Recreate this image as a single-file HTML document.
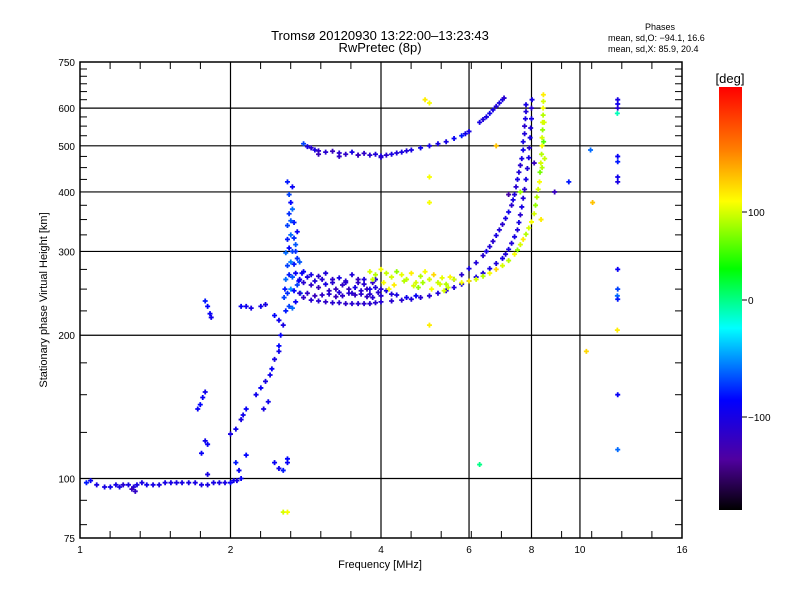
<!DOCTYPE html>
<html><head><meta charset="utf-8">
<style>
body{margin:0;background:#fff;}
svg{display:block;font-family:"Liberation Sans",sans-serif;}
</style></head>
<body>
<svg id="chart" width="800" height="600" viewBox="0 0 800 600" xmlns="http://www.w3.org/2000/svg">
<defs>
<linearGradient id="cbar" x1="0" y1="0" x2="0" y2="1">
<stop offset="0" stop-color="#ff0000"/>
<stop offset="0.15" stop-color="#ff8000"/>
<stop offset="0.27" stop-color="#ffff00"/>
<stop offset="0.43" stop-color="#00ff00"/>
<stop offset="0.57" stop-color="#00ffff"/>
<stop offset="0.74" stop-color="#0000ff"/>
<stop offset="0.88" stop-color="#5000a0"/>
<stop offset="1" stop-color="#000000"/>
</linearGradient>
</defs>
<rect width="800" height="600" fill="#fff"/>
<text x="380" y="40" text-anchor="middle" font-size="13">Tromsø 20120930 13:22:00–13:23:43</text>
<text x="380" y="52" text-anchor="middle" font-size="13">RwPretec (8p)</text>
<text x="660" y="30" text-anchor="middle" font-size="9">Phases</text>
<text x="608" y="41" font-size="9">mean, sd,O: −94.1, 16.6</text>
<text x="608" y="52" font-size="9">mean, sd,X:  85.9, 20.4</text>
<g id="grid"></g>
<g id="marks"></g>
<rect x="80" y="62" width="602" height="476" fill="none" stroke="#000" stroke-width="1.5"/>
<g id="axes"></g>
<text x="380" y="568" text-anchor="middle" font-size="11">Frequency [MHz]</text>
<text transform="translate(47,300) rotate(-90)" text-anchor="middle" font-size="11">Stationary phase Virtual Height [km]</text>
<rect x="719" y="87" width="23" height="423" fill="url(#cbar)"/>
<text x="730" y="83" text-anchor="middle" font-size="13">[deg]</text>
<g id="cbticks"></g>
</svg>
<script>
const xTicks=[1,2,4,6,8,10,16];
const xLabels=["1","2","4","6","8","10","16"];
const xGrid=[2,4,6,8,10];
const yTicks=[75,100,200,300,400,500,600,750];
const yLabels=["75","100","200","300","400","500","600","750"];
const yGrid=[100,200,300,400,500,600];
const cbValues=[100,0,-100];
const cbLabels=["100","0","−100"];

// Series: frequency [MHz], height [km], phase [deg]
const eFreq=[1.03,1.05,1.08,1.12,1.15,1.18,1.2,1.22,1.25,1.28,1.3,1.33,1.36,1.4,1.44,1.48,1.52,1.56,1.6,1.65,1.7,1.75,1.8,1.85,1.9,1.95,2.0,2.03,2.06,2.1,1.27,1.29];
const eHeight=[98,99,97,96,96,97,96,97,97,96,97,98,97,97,97,98,98,98,98,98,98,97,97,98,98,98,98,99,99,100,95,94];
const ePhase=[-80,-90,-100,-100,-95,-100,-100,-110,-100,-105,-100,-100,-95,-100,-100,-100,-100,-100,-100,-100,-100,-100,-100,-100,-100,-100,-90,-95,-100,-90,-120,-115];

const lowFreq=[1.75,1.78,1.8,1.72,1.74,1.76,1.78,1.78,1.8,1.82,1.83,2.0,2.05,2.1,2.12,2.15,2.05,2.15,2.1,2.15,2.2,2.3,2.35,2.25,2.3,2.35,2.4,2.42,2.45,2.5,2.5,2.52,2.55,2.5,2.45,2.45,2.5,2.55,2.6,2.6,2.33,2.38,1.8,2.08];
const lowHeight=[113,120,118,140,143,148,152,236,230,222,218,124,127,133,136,140,108,112,230,230,228,230,232,150,155,160,165,170,178,185,190,200,210,215,220,108,105,104,108,110,140,145,102,104];
const lowPhase=[-90,-95,-90,-90,-85,-90,-95,-80,-85,-90,-95,-100,-95,-100,-95,-90,-80,-85,-90,-95,-100,-95,-100,-95,-90,-100,-95,-90,-100,-95,-85,-90,-100,-95,-85,-90,-95,-80,-90,-85,-100,-95,-100,-90];

const cuspFreq=[2.58,2.62,2.66,2.7,2.6,2.64,2.68,2.72,2.58,2.62,2.66,2.7,2.6,2.64,2.68,2.72,2.58,2.62,2.66,2.7,2.6,2.64,2.68,2.72,2.6,2.64,2.68,2.62,2.66,2.64,2.62,2.66,2.6,2.7,2.74,2.76,2.78,2.56,2.57,2.75];
const cuspHeight=[225,230,228,235,245,250,248,255,262,268,265,270,280,285,282,290,298,305,300,310,318,325,320,330,340,348,345,360,368,380,395,410,420,300,260,245,270,240,250,285];
const cuspPhase=[-80,-70,-60,-90,-75,-50,-85,-70,-60,-80,-65,-90,-70,-55,-80,-75,-60,-85,-70,-65,-80,-60,-75,-90,-70,-65,-80,-75,-60,-85,-70,-90,-80,-75,-85,-60,-90,-70,-80,-65];

const oFreq=[2.75,2.8,2.9,3.0,3.1,3.2,3.3,3.4,3.5,3.6,3.7,3.8,3.9,4.0,4.2,4.4,4.6,4.8,5.0,5.2,5.4,5.6,5.8,6.0,6.2,6.4,6.6,6.8,7.0,7.1,7.2,7.3,7.4,7.5,7.55,7.6,7.65,7.7,7.75,7.8,7.85,7.9,7.92,7.95,7.97,8.0,8.0,8.02];
const oHeight=[245,240,237,236,235,234,234,233,233,233,233,233,234,235,236,237,238,240,242,245,248,252,256,260,265,270,276,283,290,296,303,312,322,333,345,358,372,388,405,425,448,472,495,520,545,570,600,625];
const oPhase=[-110,-115,-110,-110,-115,-110,-110,-115,-110,-110,-112,-110,-110,-108,-110,-110,-105,-110,-108,-105,-110,-105,-100,-105,-100,-105,-100,-105,-100,-105,-100,-105,-100,-105,-100,-110,-100,-105,-110,-100,-105,-100,-110,-100,-105,-100,-110,-100];

const bandFreq=[2.75,2.8,2.85,2.9,2.95,3.0,3.05,3.1,3.15,3.2,3.25,3.3,3.35,3.4,3.45,3.5,3.55,3.6,3.65,3.7,3.75,3.8,3.85,3.9,3.95,4.0,2.8,2.9,3.0,3.1,3.2,3.3,3.4,3.5,3.6,3.7,3.8,3.9,4.0,4.1,4.2,2.85,2.95,3.05,3.15,3.25,3.35,3.45,3.55,3.65,3.75,3.85,4.3,4.5,4.7];
const bandHeight=[262,258,265,255,260,252,262,256,248,258,250,246,255,260,250,245,252,258,248,262,250,244,258,252,246,242,272,268,266,270,262,264,258,268,262,256,250,262,250,248,244,245,242,243,244,241,242,245,243,244,241,240,243,240,242];
const bandPhase=[-95,-110,-100,-115,-105,-120,-110,-100,-115,-110,-120,-105,-115,-110,-120,-110,-100,-115,-110,-105,-120,-110,-115,-105,-110,-110,-90,-100,-110,-105,-115,-100,-110,-105,-120,-110,-100,-105,-110,-100,-105,-115,-120,-115,-110,-120,-115,-110,-118,-112,-115,-110,-100,-95,-90];

const xFreq=[3.8,3.9,4.0,4.1,4.2,4.3,4.4,4.5,4.6,4.7,4.8,4.9,5.0,5.1,5.2,5.3,5.4,5.5,3.85,4.05,4.25,4.45,4.65,4.85,5.05,5.25,5.45,5.6,5.8,6.0,6.2,6.4,6.6,6.8,7.0,7.2,7.4,7.5,7.6,7.7,7.8,7.9,8.0,8.1,8.15,8.2,8.25,8.3,8.32,8.35,8.38,8.4,8.4,8.42,8.42,8.44,8.44,8.45,8.45,8.46,8.4,8.48,8.36,8.5,4.15,4.75,5.35];
const xHeight=[272,268,275,270,265,272,268,262,270,258,266,272,262,268,258,264,256,265,262,258,255,260,254,258,250,256,252,262,258,260,262,266,270,275,280,287,296,302,310,318,326,336,346,360,375,390,405,420,440,460,480,500,520,540,560,580,600,620,640,510,450,560,350,470,250,252,248];
const xPhase=[100,90,110,95,100,80,105,95,120,100,90,110,100,130,95,105,90,115,95,110,120,90,100,85,110,100,95,100,110,120,100,90,110,130,100,90,110,80,100,120,90,100,110,100,80,90,100,110,70,100,90,110,100,80,100,90,110,100,120,60,90,100,120,95,110,80,100];

const mFreq=[2.8,2.85,2.9,2.95,3.0,3.1,3.2,3.3,3.4,3.5,3.6,3.7,3.8,3.9,4.0,4.1,4.2,4.3,4.4,4.5,4.6,4.8,5.0,5.2,5.4,5.6,5.8,5.9,6.0,6.3,6.4,6.5,6.6,6.7,6.8,6.9,7.0,7.05,3.0,3.3,3.6,4.0];
const mHeight=[505,498,495,490,488,485,487,483,480,485,478,482,478,480,476,478,480,483,485,488,490,495,500,505,510,518,525,530,536,560,568,575,585,595,605,615,625,630,480,475,478,473];
const mPhase=[-70,-100,-110,-100,-115,-110,-120,-110,-115,-100,-110,-115,-110,-105,-100,-110,-100,-105,-100,-105,-100,-95,-100,-100,-100,-90,-80,-95,-100,-100,-105,-100,-95,-100,-105,-100,-100,-110,-120,-115,-120,-110];

const bFreq=[5.6,5.8,6.0,6.2,6.4,6.5,6.6,6.7,6.8,6.9,7.0,7.1,7.2,7.3,7.35,7.4,7.45,7.5,7.55,7.6,7.65,7.7,7.7,7.75,7.75,7.78,7.8,7.8];
const bHeight=[262,268,276,284,294,300,307,315,324,333,342,352,363,375,385,395,410,425,440,455,470,490,510,530,550,570,590,610];
const bPhase=[-100,-110,-100,-105,-110,-100,-105,-110,-100,-105,-110,-100,-95,-110,-100,-105,-110,-100,-105,-110,-100,-95,-100,-105,-110,-100,-105,-100];

const rFreq=[11.9,11.9,11.9,11.88,11.9,11.9,11.9,11.9,11.9,11.9,11.88,11.9,11.88,11.9,11.9,10.5,10.6,10.3,9.5,8.9,5.0,4.9,5.0,5.0,5.0,6.3,7.2,6.8,7.6,8.1,2.55,2.6];
const rHeight=[625,612,600,585,475,463,430,420,275,250,242,238,205,150,115,490,380,185,420,400,615,625,430,380,210,107,395,500,400,460,85,85];
const rPhase=[-100,-95,-110,-10,-90,-80,-95,-100,-90,-70,-60,-80,120,-90,-60,-60,140,130,-80,-120,110,120,110,110,120,0,-130,140,80,-120,100,110];

const seriesFreq=[eFreq,lowFreq,cuspFreq,bandFreq,oFreq,mFreq,bFreq,xFreq,rFreq];
const seriesHeight=[eHeight,lowHeight,cuspHeight,bandHeight,oHeight,mHeight,bHeight,xHeight,rHeight];
const seriesPhase=[ePhase,lowPhase,cuspPhase,bandPhase,oPhase,mPhase,bPhase,xPhase,rPhase];
const seriesNames=['e-layer-trace','low-scatter','cusp-trace','f-band-scatter','o-mode-trace','multihop-trace','inner-o-trace','x-mode-trace','sparse-points'];

const NS='http://www.w3.org/2000/svg';
const X0=80,X1=682,Y0=538,Y1=62;
function xs(f){return X0+(Math.log2(f)/4)*(X1-X0);}
const lyMin=Math.log(75),lyMax=Math.log(750);
function ys(h){return Y0-(Math.log(h)-lyMin)/(lyMax-lyMin)*(Y0-Y1);}
function phaseToBarY(p){return 300-(p>=0?0.88:1.17)*p;}
const stops=[[0,[255,0,0]],[0.15,[255,128,0]],[0.27,[255,255,0]],[0.43,[0,255,0]],[0.57,[0,255,255]],[0.74,[0,0,255]],[0.88,[80,0,160]],[1,[0,0,0]]];
function phaseColor(p){
  let t=(phaseToBarY(p)-87)/423;t=Math.max(0,Math.min(1,t));
  for(let i=0;i<stops.length-1;i++){const a=stops[i],b=stops[i+1];
    if(t<=b[0]){const u=(t-a[0])/(b[0]-a[0]);const c=a[1].map((v,k)=>Math.round(v+(b[1][k]-v)*u));return 'rgb('+c.join(',')+')';}}
  return '#000';
}
function mk(tag,attrs,parent){const e=document.createElementNS(NS,tag);for(const k in attrs)e.setAttribute(k,attrs[k]);parent.appendChild(e);return e;}

const grid=document.getElementById('grid');
xGrid.forEach(f=>{const l=mk('line',{x1:xs(f),x2:xs(f),y1:Y1,y2:Y0,stroke:'#000','stroke-width':1.2},grid);

});
yGrid.forEach(h=>{const l=mk('line',{x1:X0,x2:X1,y1:ys(h),y2:ys(h),stroke:'#000','stroke-width':1.2},grid);

});

const axes=document.getElementById('axes');
xTicks.forEach((f,i)=>{const t=mk('text',{x:xs(f),y:553,'text-anchor':'middle','font-size':10},axes);t.textContent=xLabels[i];

});
yTicks.forEach((h,i)=>{const t=mk('text',{x:75,y:ys(h)+4,'text-anchor':'end','font-size':10},axes);t.textContent=yLabels[i];

});
for(let o=0;o<4;o++){for(let k=1;k<5;k++){const x=X0+(o+k/5)/4*(X1-X0);
  const a=mk('line',{x1:x,x2:x,y1:Y1,y2:Y1+7,stroke:'#000'},axes);
  
  
  const b=mk('line',{x1:x,x2:x,y1:Y0,y2:Y0-7,stroke:'#000'},axes);
  
  }}
[80,90,125,150,175,225,250,275,325,350,375,425,450,475,525,550,575,625,650,675,700,725].forEach(h=>{
  const a=mk('line',{x1:X0,x2:X0+7,y1:ys(h),y2:ys(h),stroke:'#000'},axes);
  
  
  const b=mk('line',{x1:X1,x2:X1-7,y1:ys(h),y2:ys(h),stroke:'#000'},axes);
  
  });

const marks=document.getElementById('marks');
seriesFreq.forEach((fs,s)=>{
  const g=mk('g',{},marks);
  
  
  fs.forEach((f,i)=>{
    const x=xs(f),y=ys(seriesHeight[s][i]);
    const p=mk('path',{d:'M'+(x-2.5)+' '+y+'h5M'+x+' '+(y-2.5)+'v5',stroke:phaseColor(seriesPhase[s][i]),'stroke-width':1.8},g);
    
    
  });
});

const cb=document.getElementById('cbticks');
cbValues.forEach((v,i)=>{const y=phaseToBarY(v);
  const l=mk('line',{x1:742,x2:747,y1:y,y2:y,stroke:'#000'},cb);
  
  
  const t=mk('text',{x:748,y:y+4,'font-size':10},cb);t.textContent=cbLabels[i];
  
  });
</script>
</body></html>
